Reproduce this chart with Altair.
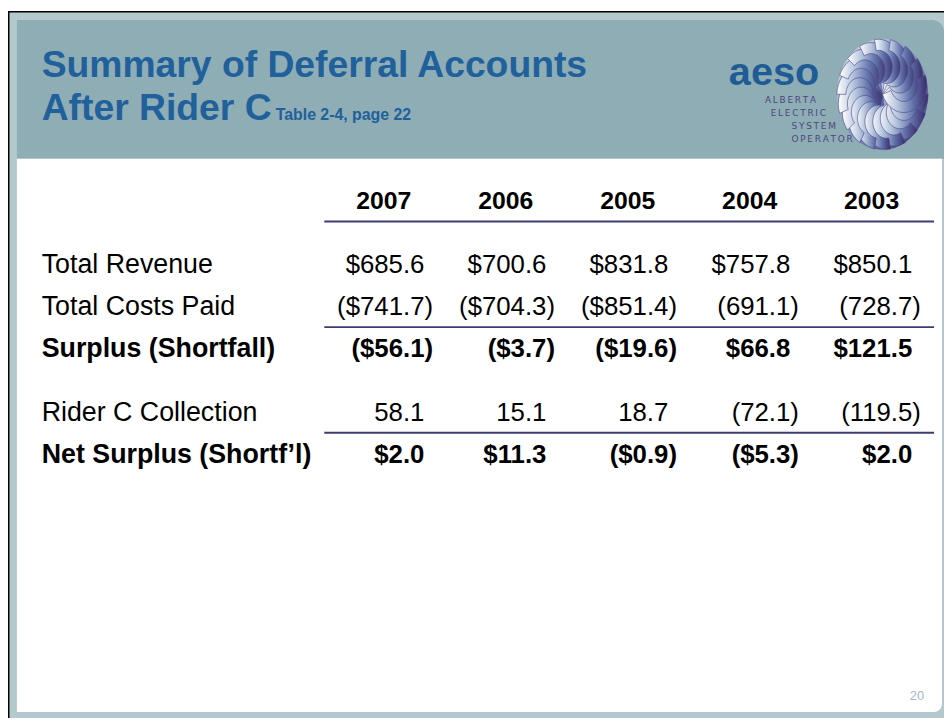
import math
import altair as alt
import pandas as pd

# ---------------- data ----------------
years = ["2007", "2006", "2005", "2004", "2003"]
row_labels = ["Total Revenue", "Total Costs Paid", "Surplus (Shortfall)",
              "Rider C Collection", "Net Surplus (Shortf\u2019l)"]
row_bold = [False, False, True, False, True]
total_revenue = ["$685.6", "$700.6", "$831.8", "$757.8", "$850.1"]
total_costs = ["($741.7)", "($704.3)", "($851.4)", "(691.1)", "(728.7)"]
surplus = ["($56.1)", "($3.7)", "($19.6)", "$66.8", "$121.5"]
rider_c = ["58.1", "15.1", "18.7", "(72.1)", "(119.5)"]
net_surplus = ["$2.0", "$11.3", "($0.9)", "($5.3)", "$2.0"]
row_values = [total_revenue, total_costs, surplus, rider_c, net_surplus]

title_lines = ["Summary of Deferral Accounts", "After Rider C"]
subtitle = "Table 2-4, page 22"
logo_word = "aeso"
logo_lines = ["ALBERTA", "ELECTRIC", "SYSTEM", "OPERATOR"]
page_number = "20"

# vertical slots of the table (gaps are spacer slots)
slots = ["hdr", "g1", "g2", row_labels[0], "g3", row_labels[1], "g4",
         row_labels[2], "g5", "g6", row_labels[3], "g7", row_labels[4]]
rule_slots = ["g1", "g4", "g7"]

# ---------------- styles ----------------
W, H = 944, 713
FONT = "Liberation Sans, Arial, sans-serif"
TITLE_BLUE = "#20609b"
HEADER_BG = "#8fadb4"
FRAME_BG = "#b3c9ce"
LINE_COL = "#3b3d74"
FS = 27

xscale = alt.Scale(type="point", domain=years, range=[420, 912], padding=0)
yscale = alt.Scale(type="point", domain=slots, range=[200, 455.6], padding=0)

one = pd.DataFrame({"a": [0]})

def box(x, x2, y, y2, color, **kw):
    return alt.Chart(one).mark_rect(color=color, **kw).encode(
        x=alt.value(x), x2=alt.value(x2), y=alt.value(y), y2=alt.value(y2))

def label(text, x, y, size, color, bold=False, align="left", font=FONT):
    return alt.Chart(one).mark_text(
        text=text, font=font, fontSize=size, fontWeight="bold" if bold else "normal",
        color=color, align=align, baseline="alphabetic").encode(
        x=alt.value(x), y=alt.value(y))

layers = []
# frame
layers.append(box(0, W, 0, H, FRAME_BG))
layers.append(box(0, W, 0, 1.5, "#000000"))
layers.append(box(0, 1.5, 0, H, "#000000"))
layers.append(box(9, W, 9, 149, HEADER_BG, cornerRadiusTopRight=12))
layers.append(box(9, 942, 149, 707, "#ffffff", cornerRadiusBottomRight=8))

# title
layers.append(label(title_lines[0], 34, 67, 37.6, TITLE_BLUE, bold=True))
layers.append(label(title_lines[1], 34, 110, 37.6, TITLE_BLUE, bold=True))
layers.append(label(subtitle, 270, 110, 16, TITLE_BLUE, bold=True))

# ---- logo: swirl ellipse built from overlapping crescent blades ----
CX, CY, RX, RY = 882, 84, 46, 56

def blade_path(phi, w=0.2, n=18):
    pts = []
    cx, cy = 0.5 * math.cos(phi), 0.5 * math.sin(phi)
    for i in range(n + 1):
        a = phi + math.pi * i / n
        pts.append((cx + 0.5 * math.cos(a), cy + 0.5 * math.sin(a)))
    for i in range(n, -1, -1):
        a = phi + math.pi * i / n
        pts.append((cx + (0.5 - w) * math.cos(a), cy + (0.5 - w) * math.sin(a)))
    return "M" + " L".join(f"{x * RX:.2f},{y * RY:.2f}" for x, y in pts) + " Z"

def ellipse_path(n=48):
    pts = [(math.cos(2 * math.pi * i / n), math.sin(2 * math.pi * i / n)) for i in range(n)]
    return "M" + " L".join(f"{x * RX:.2f},{y * RY:.2f}" for x, y in pts) + " Z"

NB = 18
blade_df = pd.DataFrame({"k": list(range(NB)),
                         "path": [blade_path(2 * math.pi * k / NB) for k in range(NB)]})
disk = alt.Chart(pd.DataFrame({"path": [ellipse_path()]})).mark_point(
    filled=True, size=4, opacity=1, strokeWidth=0,
    fill=alt.LinearGradient(gradient="linear", x1=0, y1=0, x2=1, y2=1,
                            stops=[alt.GradientStop(color="#e4eaf2", offset=0),
                                   alt.GradientStop(color="#7d8fbb", offset=0.5),
                                   alt.GradientStop(color="#3a2e6c", offset=1)])).encode(
    x=alt.value(CX), y=alt.value(CY), shape=alt.Shape("path:N", scale=None, legend=None))
layers.append(disk)
blades = alt.Chart(blade_df).mark_point(
    filled=True, size=4, opacity=1, stroke="#4b4685", strokeWidth=0.6,
    fill=alt.LinearGradient(gradient="linear", x1=0, y1=0, x2=1, y2=0,
                            stops=[alt.GradientStop(color="#ffffff", offset=0),
                                   alt.GradientStop(color="#b3c3dc", offset=0.35),
                                   alt.GradientStop(color="#5f6fa8", offset=0.7),
                                   alt.GradientStop(color="#3a2e6c", offset=1)])).encode(
    x=alt.value(CX), y=alt.value(CY), shape=alt.Shape("path:N", scale=None, legend=None),
    order=alt.Order("k:Q"))
layers.append(blades)

# logo word and lines
layers.append(label(logo_word, 727, 75, 40, "#1f5c96", bold=True))
logo_df = pd.DataFrame({"t": logo_lines, "i": list(range(len(logo_lines)))})
logo_small = alt.Chart(logo_df).mark_text(
    font="DejaVu Sans", fontSize=9, color="#4b4680", align="right", baseline="middle",
    fontWeight="normal").transform_calculate(
    tt="join(split(datum.t, ''), '\u2009')",
    px="[815, 825, 835, 852][datum.i]",
    py="[90, 103, 116, 129][datum.i]").encode(
    text="tt:N", x=alt.X("px:Q", scale=None, axis=None), y=alt.Y("py:Q", scale=None, axis=None))
layers.append(logo_small)

# table: header years
hdr_df = pd.DataFrame({"year": years, "slot": ["hdr"] * len(years)})
layers.append(alt.Chart(hdr_df).mark_text(
    font=FONT, fontSize=25, fontWeight="bold", color="#000000", align="center",
    baseline="alphabetic", dx=-41).encode(
    x=alt.X("year:N", scale=xscale, axis=None), y=alt.Y("slot:N", scale=yscale, axis=None),
    text="year:N"))

# rules
rule_df = pd.DataFrame({"slot": rule_slots})
layers.append(alt.Chart(rule_df).mark_rule(color=LINE_COL, strokeWidth=2, yOffset=-9).encode(
    y=alt.Y("slot:N", scale=yscale, axis=None), x=alt.value(319), x2=alt.value(934)))

# row labels
lab_df = pd.DataFrame({"slot": row_labels, "bold": row_bold})
for b in (False, True):
    layers.append(alt.Chart(lab_df).transform_filter(
        "datum.bold" if b else "!datum.bold").mark_text(
        font=FONT, fontSize=FS, fontWeight="bold" if b else "normal", color="#000000",
        align="left", baseline="alphabetic").encode(
        x=alt.value(34), y=alt.Y("slot:N", scale=yscale, axis=None), text="slot:N"))

# values
recs = []
for lab, b, vals in zip(row_labels, row_bold, row_values):
    for yr, v in zip(years, vals):
        recs.append({"slot": lab, "year": yr, "value": v, "bold": b, "paren": v.endswith(")")})
val_df = pd.DataFrame(recs)
for b in (False, True):
    for p in (False, True):
        cond = ("datum.bold" if b else "!datum.bold") + " && " + ("datum.paren" if p else "!datum.paren")
        layers.append(alt.Chart(val_df).transform_filter(cond).mark_text(
            font=FONT, fontSize=26, fontWeight="bold" if b else "normal", color="#000000",
            align="right", baseline="alphabetic", dx=8.7 if p else 0).encode(
            x=alt.X("year:N", scale=xscale, axis=None),
            y=alt.Y("slot:N", scale=yscale, axis=None), text="value:N"))

# page number
layers.append(label(page_number, 924, 695, 13, "#a3b9c9", align="right"))

chart = alt.layer(*layers).resolve_scale(
    x="independent", y="independent").properties(
    width=W, height=H, padding=0, autosize=alt.AutoSizeParams(type="none"),
    background="#ffffff").configure_view(stroke=None)

chart.save("out.html", embed_options={"renderer": "svg", "actions": False})
